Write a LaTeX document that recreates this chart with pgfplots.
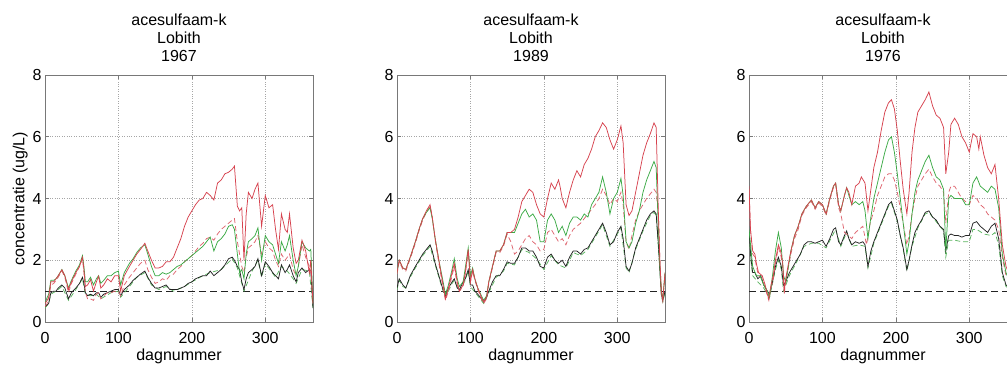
\documentclass[border=0pt]{standalone}
\usepackage{pgfplots}
\pgfplotsset{compat=1.18}
\usepackage{fontspec}
\setmainfont{Liberation Sans}
\definecolor{mred}{RGB}{214,66,78}
\definecolor{mredd}{RGB}{222,100,110}
\definecolor{mgreen}{RGB}{60,170,70}
\definecolor{mgreend}{RGB}{90,180,95}
\definecolor{mblack}{RGB}{35,35,35}
\definecolor{frame}{RGB}{120,120,120}
\newcommand{\lab}{\fontsize{16}{18}\selectfont}
\pgfplotsset{panel/.style={
  width=268pt, height=247pt, scale only axis,
  xmin=0, xmax=365, ymin=0, ymax=8,
  xtick={0,100,200,300}, ytick={0,2,4,6,8},
  tick pos=both, tick align=inside, major tick length=4pt,
  grid=major, grid style={dotted, gray!70, line width=0.6pt},
  axis line style={frame, line width=0.7pt},
  tick style={frame, line width=0.6pt},
  ticklabel style={font=\lab},
  xticklabel style={anchor=base, yshift=-21pt},
  /pgf/number format/assume math mode=true,
  xlabel={dagnummer}, xlabel style={font=\lab, at={(axis description cs:0.5,0)}, anchor=base, yshift=-38pt},
  title style={align=center, font=\lab, yshift=4pt},
  every axis plot/.append style={line width=0.75pt},
  sdash/.style={dash pattern=on 5pt off 3pt},
  clip=true,
}}
\begin{document}
\begin{tikzpicture}
\useasboundingbox (0,0) rectangle (1007pt,365pt);
% ---------------- Panel 1 ----------------
\begin{axis}[panel, at={(45pt,43pt)}, anchor=south west,
  title={acesulfaam-k\\Lobith\\1967},
  ylabel={concentratie (ug/L)}, ylabel style={font=\lab, yshift=-2pt}]
\addplot[mblack, dash pattern=on 7pt off 4pt, line width=0.7pt] coordinates {(0,1) (365,1)};
\addplot[mgreend, sdash] coordinates {(0,0.45)(5,0.6)(8,0.9)(15,1.0)(23,1.15)(32,0.7)(42,1.05)(51,1.4)(55,0.9)(62,0.85)(70,0.9)(76,0.75)(90,0.95)(100,1.0)(103,0.8)(115,1.15)(125,1.45)(136,1.6)(145,1.2)(155,1.05)(165,1.15)(175,1.0)(190,1.15)(200,1.3)(215,1.5)(225,1.6)(240,1.7)(255,2.05)(262,1.75)(271,1.0)(282,1.65)(290,2.0)(295,1.45)(300,1.9)(314,1.45)(322,1.8)(330,1.65)(338,1.4)(342,1.25)(350,1.7)(360,1.65)(365,0.45)};
\addplot[mblack] coordinates {(0,0.5)(3,0.55)(5,0.6)(8,0.95)(12,1.0)(15,1.0)(18,1.1)(23,1.2)(27,1.1)(32,0.75)(36,0.95)(42,1.1)(47,1.25)(51,1.45)(53,1.25)(55,0.95)(58,0.85)(62,0.9)(66,0.85)(70,0.95)(73,0.95)(76,0.8)(80,0.9)(85,0.95)(90,1.0)(95,1.05)(100,1.05)(103,0.85)(108,1.05)(115,1.2)(120,1.35)(125,1.45)(130,1.55)(136,1.65)(140,1.45)(145,1.25)(150,1.1)(155,1.1)(160,1.15)(165,1.2)(170,1.05)(175,1.05)(180,1.05)(185,1.1)(190,1.15)(195,1.25)(200,1.3)(205,1.4)(210,1.45)(215,1.5)(220,1.5)(225,1.65)(230,1.5)(235,1.6)(240,1.7)(245,1.85)(250,2.05)(255,2.1)(258,2.0)(262,1.8)(265,1.7)(268,1.3)(271,1.05)(274,1.4)(277,1.6)(282,1.7)(286,1.8)(290,2.05)(295,1.5)(300,1.95)(305,1.8)(310,1.6)(314,1.5)(318,1.4)(322,1.85)(327,1.6)(330,1.7)(333,1.85)(338,1.5)(342,1.3)(345,1.6)(350,1.75)(355,1.6)(360,1.7)(362,1.65)(365,0.45)};
\addplot[mredd, sdash] coordinates {(0,0.5)(3,0.6)(5,0.75)(8,1.2)(12,1.25)(15,1.35)(18,1.45)(23,1.65)(27,1.45)(32,0.95)(36,1.25)(42,1.55)(47,1.8)(51,2.05)(53,1.6)(55,0.95)(58,0.75)(62,0.75)(66,0.7)(70,0.9)(73,0.95)(76,0.75)(80,0.85)(85,0.95)(90,0.95)(95,1.0)(100,1.0)(103,0.85)(108,1.2)(115,1.45)(120,1.6)(125,1.75)(130,1.9)(136,2.0)(140,1.7)(145,1.45)(150,1.25)(155,1.3)(160,1.4)(165,1.35)(170,1.5)(175,1.55)(180,1.7)(185,1.8)(190,1.95)(195,2.05)(200,2.15)(205,2.3)(210,2.45)(215,2.55)(220,2.7)(225,2.75)(230,2.65)(235,2.85)(240,3.0)(245,3.1)(250,3.2)(255,3.3)(258,3.35)(262,2.6)(265,2.2)(268,1.8)(271,1.6)(274,2.1)(277,2.4)(282,2.5)(286,2.6)(290,2.8)(295,2.2)(300,2.6)(305,2.4)(310,2.3)(314,2.0)(318,1.8)(322,2.2)(327,2.0)(330,2.1)(333,2.2)(338,1.7)(342,1.5)(345,1.8)(350,2.5)(355,2.1)(360,1.8)(362,1.6)(365,0.6)};
\addplot[mgreen] coordinates {(0,0.6)(3,0.8)(5,0.9)(8,1.35)(12,1.35)(15,1.4)(18,1.5)(23,1.7)(27,1.5)(32,1.1)(36,1.35)(42,1.65)(47,1.85)(51,2.15)(53,1.8)(55,1.3)(58,1.3)(62,1.45)(66,1.2)(70,1.4)(73,1.5)(76,1.25)(80,1.35)(85,1.5)(90,1.5)(95,1.6)(100,1.65)(103,1.2)(108,1.6)(115,1.9)(120,2.05)(125,2.25)(130,2.4)(136,2.5)(140,2.2)(145,1.8)(150,1.5)(155,1.5)(160,1.6)(165,1.55)(170,1.6)(175,1.7)(180,1.8)(185,1.85)(190,1.95)(195,2.05)(200,2.15)(205,2.25)(210,2.35)(215,2.45)(220,2.6)(225,2.75)(230,2.3)(235,2.6)(240,2.7)(245,2.85)(250,3.1)(255,3.15)(258,3.0)(262,2.2)(265,1.6)(268,1.7)(271,1.4)(274,2.2)(277,2.6)(282,2.7)(286,2.8)(290,3.05)(295,2.0)(300,2.8)(305,2.6)(310,2.5)(314,2.2)(318,1.9)(322,2.6)(327,2.3)(330,2.5)(333,2.8)(338,2.0)(342,1.5)(345,1.8)(350,2.6)(355,2.4)(360,2.3)(362,2.35)(365,0.6)};
\addplot[mred] coordinates {(0,0.6)(3,0.7)(5,0.8)(8,1.3)(12,1.3)(15,1.4)(18,1.5)(23,1.69)(27,1.5)(32,1.05)(36,1.3)(42,1.6)(47,1.8)(51,2.1)(53,1.7)(55,1.15)(58,1.2)(62,1.37)(66,1.0)(70,1.3)(73,1.48)(76,1.1)(80,1.2)(85,1.4)(90,1.3)(95,1.5)(100,1.5)(103,1.0)(108,1.5)(115,1.8)(120,2.0)(125,2.2)(130,2.35)(136,2.55)(140,2.3)(145,2.0)(150,1.75)(155,1.75)(160,1.8)(165,1.95)(170,1.95)(175,2.1)(180,2.4)(185,2.7)(190,3.1)(195,3.4)(200,3.6)(205,3.8)(210,3.95)(215,4.0)(220,4.2)(225,4.1)(230,3.95)(235,4.5)(240,4.6)(245,4.8)(250,4.85)(255,4.95)(258,5.05)(262,3.75)(265,3.6)(268,3.7)(271,2.0)(274,3.5)(277,4.2)(282,4.0)(286,4.3)(290,4.5)(295,3.1)(300,4.1)(305,3.7)(310,3.8)(314,3.0)(318,2.35)(322,3.5)(327,3.0)(330,2.9)(333,3.5)(338,2.4)(342,1.9)(345,2.0)(350,2.65)(355,2.3)(360,1.6)(362,2.0)(365,0.6)};
\end{axis}
% ---------------- Panel 2 ----------------
\begin{axis}[panel, at={(397pt,43pt)}, anchor=south west,
  title={acesulfaam-k\\Lobith\\1989}]
\addplot[mblack, dash pattern=on 7pt off 4pt, line width=0.7pt] coordinates {(0,1) (365,1)};
\addplot[mgreend, sdash] coordinates {(0,1.05)(3,1.35)(8,1.15)(12,1.1)(18,1.45)(25,1.75)(35,2.15)(45,2.45)(52,1.85)(62,1.05)(66,0.8)(75,1.25)(78,1.35)(85,1.0)(93,1.35)(97,1.65)(100,1.15)(110,0.85)(118,0.6)(125,0.95)(135,1.45)(145,1.65)(150,1.9)(160,1.85)(170,2.35)(180,2.25)(190,2.05)(200,1.7)(210,2.15)(220,1.85)(230,1.75)(240,2.25)(250,2.15)(260,2.35)(270,2.75)(280,3.15)(290,2.45)(300,2.85)(305,3.05)(312,1.75)(316,1.6)(325,2.35)(335,2.95)(345,3.45)(350,3.55)(353,3.45)(356,2.4)(360,0.85)(362,0.65)(365,0.95)};
\addplot[mblack] coordinates {(0,1.1)(3,1.4)(8,1.2)(12,1.1)(18,1.5)(25,1.8)(30,2.0)(35,2.2)(40,2.35)(45,2.5)(48,2.3)(52,1.9)(57,1.5)(62,1.1)(66,0.85)(70,1.1)(75,1.3)(78,1.4)(82,1.1)(85,1.05)(90,1.3)(93,1.4)(97,1.7)(100,1.2)(103,1.2)(106,1.0)(110,0.9)(115,0.75)(118,0.65)(122,0.8)(125,1.0)(130,1.3)(135,1.5)(140,1.5)(145,1.7)(150,1.95)(155,1.9)(160,1.9)(165,2.1)(170,2.4)(175,2.4)(180,2.3)(185,2.3)(190,2.1)(195,1.8)(200,1.75)(205,2.1)(210,2.2)(215,2.0)(220,1.9)(225,2.0)(230,1.8)(235,2.1)(240,2.3)(245,2.3)(250,2.2)(255,2.35)(260,2.4)(265,2.6)(270,2.8)(275,3.0)(280,3.2)(285,2.9)(290,2.5)(295,2.6)(300,2.9)(305,3.1)(308,2.7)(312,1.8)(316,1.65)(320,1.9)(325,2.4)(330,2.7)(335,3.0)(340,3.3)(345,3.5)(350,3.6)(353,3.5)(356,2.5)(360,0.9)(362,0.7)(365,1.0)};
\addplot[mredd, sdash] coordinates {(0,1.55)(3,1.95)(8,1.7)(12,1.65)(18,2.05)(25,2.55)(30,2.95)(35,3.3)(40,3.55)(45,3.75)(48,3.4)(52,2.65)(57,1.9)(62,1.2)(66,0.7)(70,1.0)(75,1.5)(78,1.8)(82,1.2)(85,1.0)(90,1.15)(93,1.55)(97,2.3)(100,1.3)(103,1.65)(106,1.35)(110,1.05)(115,0.75)(118,0.6)(122,0.75)(125,1.25)(130,1.75)(135,2.25)(140,2.25)(145,2.45)(150,2.85)(155,2.6)(160,2.2)(165,2.3)(170,2.5)(175,2.7)(180,2.8)(185,2.6)(190,2.5)(195,2.3)(200,2.35)(205,2.9)(210,3.0)(215,2.8)(220,2.6)(225,2.7)(230,2.5)(235,2.8)(240,3.0)(245,3.1)(250,3.2)(255,3.35)(260,3.5)(265,3.65)(270,3.8)(275,4.0)(280,4.3)(285,4.1)(290,3.8)(295,4.0)(300,3.9)(305,4.2)(308,3.8)(312,2.6)(316,2.35)(320,2.8)(325,3.3)(330,3.6)(335,3.8)(340,4.0)(345,4.15)(350,4.3)(353,4.2)(356,3.5)(358,2.0)(360,1.0)(362,0.7)(365,1.5)};
\addplot[mgreen] coordinates {(0,1.6)(3,2.0)(8,1.75)(12,1.7)(18,2.1)(25,2.6)(30,3.0)(35,3.35)(40,3.55)(45,3.7)(48,3.35)(52,2.7)(57,2.0)(62,1.4)(66,0.9)(70,1.2)(75,1.7)(78,2.05)(82,1.4)(85,1.15)(90,1.3)(93,1.75)(97,2.4)(100,1.5)(103,1.75)(106,1.4)(110,1.1)(115,0.85)(118,0.7)(122,0.85)(125,1.3)(130,1.8)(135,2.3)(140,2.3)(145,2.5)(150,2.9)(155,2.9)(160,2.9)(165,3.2)(170,3.5)(175,3.65)(180,3.4)(185,3.5)(190,3.3)(195,2.6)(200,2.6)(205,3.3)(210,3.5)(215,3.3)(220,2.9)(225,3.1)(230,2.8)(235,3.2)(240,3.4)(245,3.4)(250,3.3)(255,3.5)(260,3.4)(265,3.8)(270,4.0)(275,4.2)(280,4.7)(285,4.2)(290,3.5)(295,4.0)(300,4.2)(305,4.65)(308,4.1)(312,2.6)(316,2.4)(320,2.6)(325,3.2)(330,3.6)(335,4.2)(340,4.6)(345,4.9)(350,5.2)(353,5.0)(356,3.0)(358,1.8)(360,1.0)(362,0.75)(365,1.6)};
\addplot[mred] coordinates {(0,1.6)(3,2.0)(8,1.75)(12,1.7)(18,2.1)(25,2.6)(30,3.0)(35,3.35)(40,3.6)(45,3.8)(48,3.4)(52,2.7)(57,2.0)(62,1.3)(66,0.75)(70,1.1)(75,1.6)(78,1.9)(82,1.3)(85,1.0)(90,1.2)(93,1.6)(97,2.35)(100,1.3)(103,1.7)(106,1.4)(110,1.1)(115,0.8)(118,0.65)(122,0.8)(125,1.3)(130,1.8)(135,2.3)(140,2.3)(145,2.5)(150,2.9)(155,2.9)(160,3.0)(165,3.4)(170,3.9)(175,4.1)(180,4.3)(185,4.2)(190,3.8)(195,3.5)(200,3.4)(205,4.0)(210,4.5)(215,4.3)(220,4.6)(222,4.4)(225,4.0)(230,3.7)(235,4.2)(240,4.6)(245,4.9)(250,4.7)(255,5.1)(260,5.3)(265,5.6)(270,6.0)(275,6.2)(280,6.45)(285,6.3)(290,5.9)(295,5.6)(300,5.9)(305,6.35)(308,5.8)(312,3.8)(316,3.45)(320,3.6)(325,4.2)(330,4.8)(335,5.4)(340,5.8)(345,6.1)(350,6.45)(353,6.3)(356,3.5)(358,2.0)(360,1.0)(362,0.7)(365,1.6)};
\end{axis}
% ---------------- Panel 3 ----------------
\begin{axis}[panel, at={(749pt,43pt)}, anchor=south west,
  title={acesulfaam-k\\Lobith\\1976}]
\addplot[mblack, dash pattern=on 7pt off 4pt, line width=0.7pt] coordinates {(0,1) (365,1)};
\addplot[mgreend, sdash] coordinates {(0,2.8)(3,1.9)(5,1.5)(12,1.3)(20,1.1)(28,0.8)(36,1.7)(40,2.0)(44,1.7)(47,1.0)(55,1.5)(65,1.95)(75,2.45)(85,2.55)(95,2.55)(105,2.4)(118,3.0)(125,2.45)(133,2.9)(140,2.45)(150,2.5)(158,2.45)(162,1.75)(170,2.55)(180,3.15)(190,3.75)(194,3.85)(202,3.25)(210,2.35)(215,1.65)(222,2.45)(230,3.05)(240,3.5)(245,3.55)(255,3.25)(265,2.95)(268,2.1)(272,2.65)(280,2.65)(290,2.6)(300,2.6)(305,3.0)(310,3.0)(320,2.85)(330,2.8)(335,2.9)(340,2.5)(345,1.5)(350,1.15)(360,1.0)(365,0.95)};
\addplot[mblack] coordinates {(0,2.9)(3,2.0)(5,1.6)(8,1.6)(12,1.4)(16,1.5)(20,1.2)(25,1.0)(28,0.9)(32,1.3)(36,1.8)(40,2.1)(44,1.8)(47,1.2)(50,1.3)(55,1.6)(60,1.8)(65,2.0)(70,2.2)(75,2.5)(80,2.6)(85,2.6)(90,2.55)(95,2.6)(100,2.65)(105,2.45)(110,2.7)(115,3.0)(118,3.05)(122,2.6)(125,2.5)(130,2.8)(133,2.95)(136,2.7)(140,2.5)(145,2.6)(150,2.55)(155,2.6)(158,2.5)(162,1.8)(166,2.3)(170,2.6)(175,2.9)(180,3.2)(185,3.5)(190,3.8)(194,3.9)(198,3.6)(202,3.3)(206,2.8)(210,2.4)(215,1.7)(218,2.0)(222,2.5)(226,2.9)(230,3.1)(235,3.3)(240,3.55)(245,3.6)(250,3.4)(255,3.3)(260,3.1)(265,3.0)(268,2.3)(272,2.8)(275,2.85)(280,2.8)(285,2.8)(290,2.75)(295,2.8)(300,2.8)(305,3.2)(310,3.25)(315,3.1)(320,3.0)(325,2.9)(330,3.1)(335,3.2)(340,2.7)(345,1.6)(350,1.2)(355,1.1)(360,1.05)(365,1.0)};
\addplot[mredd, sdash] coordinates {(0,4.3)(2,3.0)(5,2.2)(8,2.1)(10,1.8)(13,1.5)(18,1.4)(22,1.1)(25,0.85)(27,0.7)(30,1.1)(33,1.4)(36,1.9)(40,2.4)(43,2.2)(46,1.8)(48,0.9)(50,1.3)(53,1.7)(57,2.2)(62,2.7)(67,3.0)(72,3.45)(78,3.7)(85,3.9)(90,3.65)(95,3.85)(100,3.75)(105,3.45)(110,3.95)(115,4.35)(118,4.45)(122,3.7)(125,3.5)(130,2.9)(135,2.8)(140,2.7)(145,2.9)(150,3.0)(155,3.1)(160,2.5)(165,3.2)(170,3.6)(175,4.1)(180,4.4)(185,4.7)(190,4.8)(194,4.8)(198,4.6)(202,4.2)(206,3.7)(210,3.2)(215,2.5)(218,2.8)(222,3.5)(226,4.0)(230,4.4)(235,4.6)(240,4.8)(245,4.95)(250,4.7)(255,4.5)(260,4.4)(265,4.2)(268,3.2)(272,4.2)(275,4.4)(280,4.4)(285,4.2)(290,4.0)(295,3.9)(300,3.8)(305,4.1)(310,4.0)(315,3.8)(320,3.7)(325,3.5)(330,3.4)(335,3.3)(340,3.0)(345,2.1)(350,1.5)(355,1.3)(360,1.1)(365,1.0)};
\addplot[mgreen] coordinates {(0,3.0)(5,1.8)(10,1.5)(15,1.5)(20,1.2)(25,1.0)(28,0.8)(32,1.5)(36,2.3)(40,2.9)(44,2.4)(47,1.5)(50,1.3)(53,1.7)(57,2.3)(62,2.8)(67,3.1)(72,3.5)(78,3.75)(85,3.95)(90,3.7)(95,3.9)(100,3.8)(105,3.5)(110,4.0)(115,4.4)(118,4.5)(122,3.8)(125,3.6)(130,4.1)(133,4.35)(136,4.1)(140,3.8)(145,3.9)(150,3.8)(155,3.9)(158,3.6)(162,2.7)(166,3.4)(170,4.0)(175,4.5)(180,5.0)(185,5.5)(190,5.9)(194,6.0)(198,5.5)(202,4.8)(206,4.0)(210,3.2)(215,2.2)(218,2.6)(222,3.5)(226,4.2)(230,4.6)(235,4.9)(240,5.2)(245,5.4)(250,5.0)(255,4.7)(260,4.6)(265,4.3)(268,2.3)(272,4.0)(275,4.1)(280,4.0)(285,4.0)(290,4.0)(295,3.8)(300,3.8)(305,4.5)(310,4.7)(315,4.4)(320,4.3)(325,4.2)(330,4.4)(335,4.3)(340,3.7)(345,2.2)(350,1.6)(355,1.3)(360,1.1)(365,1.0)};
\addplot[mred] coordinates {(0,4.4)(2,3.0)(5,2.3)(8,2.2)(10,1.9)(13,1.6)(18,1.5)(22,1.2)(25,0.9)(27,0.75)(30,1.2)(33,1.5)(36,2.0)(40,2.5)(43,2.3)(46,1.9)(48,1.0)(50,1.4)(53,1.8)(57,2.3)(62,2.8)(67,3.1)(72,3.5)(78,3.75)(85,3.95)(90,3.7)(95,3.9)(100,3.8)(105,3.5)(110,4.0)(115,4.4)(118,4.5)(122,3.8)(125,3.6)(130,4.1)(133,4.35)(136,4.2)(140,3.8)(145,4.4)(150,4.5)(153,4.7)(158,4.5)(162,3.6)(166,4.3)(170,5.0)(175,5.5)(180,6.2)(185,6.8)(190,7.1)(194,7.2)(198,6.9)(202,6.2)(206,5.2)(210,4.3)(215,3.5)(218,4.2)(222,5.5)(226,6.3)(230,6.8)(235,7.0)(240,7.2)(245,7.45)(250,7.0)(255,6.7)(260,6.6)(265,6.3)(268,4.8)(272,5.5)(275,6.4)(280,6.6)(285,6.4)(290,6.0)(295,5.8)(300,5.5)(305,6.1)(310,6.0)(313,5.6)(315,6.0)(320,5.4)(325,5.0)(330,4.8)(335,5.1)(340,4.0)(345,2.5)(350,1.8)(355,1.5)(360,1.2)(365,1.1)};
\end{axis}
\end{tikzpicture}
\end{document}
